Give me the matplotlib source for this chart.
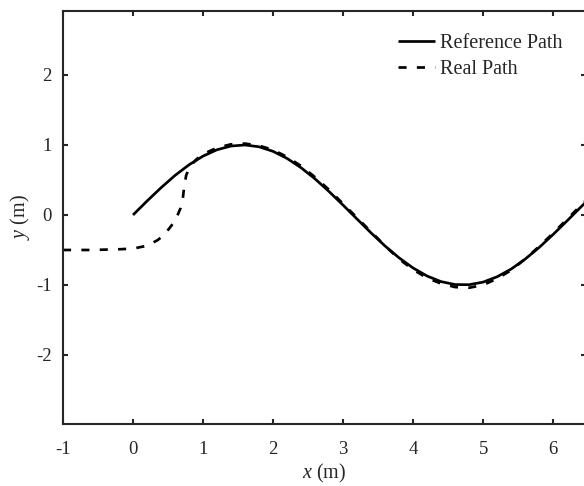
import matplotlib
matplotlib.use("Agg")
import matplotlib.pyplot as plt

plt.rcParams['font.family'] = ['Liberation Serif', 'DejaVu Serif']
plt.rcParams['mathtext.fontset'] = 'custom'
plt.rcParams['mathtext.rm'] = 'Liberation Serif'
plt.rcParams['mathtext.it'] = 'Liberation Serif:italic'

# Reference path
ref_x = [0.0, 0.2, 0.4, 0.6, 0.8, 1.0, 1.2, 1.4, 1.6, 1.8, 2.0, 2.2, 2.4, 2.6,
         2.8, 3.0, 3.2, 3.4, 3.6, 3.8, 4.0, 4.2, 4.4, 4.6, 4.8, 5.0, 5.2, 5.4,
         5.6, 5.8, 6.0, 6.2, 6.4, 6.6]
ref_y = [0.0, 0.199, 0.389, 0.565, 0.717, 0.841, 0.932, 0.985, 1.000, 0.974,
         0.909, 0.808, 0.675, 0.516, 0.335, 0.141, -0.058, -0.256, -0.443,
         -0.612, -0.757, -0.872, -0.952, -0.994, -0.996, -0.959, -0.883,
         -0.773, -0.631, -0.465, -0.279, -0.083, 0.117, 0.312]

# Real path
real_x = [-1.0, -0.6, -0.2, 0.0, 0.2, 0.35, 0.45, 0.55, 0.62, 0.68, 0.71, 0.73,
          0.76, 0.82, 0.9, 1.0, 1.2, 1.4, 1.6, 1.8, 2.0, 2.2, 2.4, 2.6, 2.8,
          3.0, 3.2, 3.4, 3.6, 3.8, 4.0, 4.2, 4.4, 4.6, 4.8, 5.0, 5.2, 5.4,
          5.6, 5.8, 6.0, 6.2, 6.4, 6.6]
real_y = [-0.50, -0.50, -0.49, -0.48, -0.44, -0.36, -0.28, -0.15, -0.04, 0.10,
          0.22, 0.40, 0.57, 0.70, 0.79, 0.87, 0.96, 1.01, 1.02, 0.99, 0.93,
          0.83, 0.70, 0.54, 0.36, 0.16, -0.04, -0.24, -0.44, -0.63, -0.78,
          -0.90, -0.98, -1.03, -1.04, -1.00, -0.91, -0.79, -0.63, -0.45,
          -0.26, -0.06, 0.14, 0.34]

x_ticks = [-1, 0, 1, 2, 3, 4, 5, 6]
y_ticks = [-2, -1, 0, 1, 2]

W, H = 584, 486
fig = plt.figure(figsize=(W / 100, H / 100), dpi=100)
ax = fig.add_axes([63 / W, 62 / H, (586 - 63) / W, (424 - 11) / H])

lw = 2.7 * 72 / 100
ax.plot(ref_x, ref_y, color='black', lw=lw, solid_capstyle='butt',
        label='Reference Path', zorder=3)
ax.plot(real_x, real_y, color='black', lw=lw, dashes=(3.0, 3.8),
        label='Real Path', zorder=2)

ax.set_xlim(-1, 6.47)
ax.set_ylim(-2.986, 2.914)
ax.set_xticks(x_ticks)
ax.set_yticks(y_ticks)
ax.set_xticklabels([str(v) for v in x_ticks])
ax.set_yticklabels([str(v) for v in y_ticks])

spine_c = '#262626'
for s in ax.spines.values():
    s.set_linewidth(1.5)
    s.set_color(spine_c)
ax.tick_params(direction='in', length=5 * 0.72, width=1.5, colors=spine_c,
               top=True, right=True, labelsize=13.5)
ax.tick_params(axis='x', pad=12)
ax.tick_params(axis='y', pad=8)
for lab in ax.get_xticklabels() + ax.get_yticklabels():
    lab.set_color('#262626')

ax.set_xlabel('$x$ (m)', fontsize=14.5, color='#262626', labelpad=3)
ax.set_ylabel('$y$ (m)', fontsize=14.5, color='#262626', labelpad=3)

leg = ax.legend(loc='upper right', frameon=False, fontsize=14.5,
                handlelength=1.8, handletextpad=0.25, borderaxespad=0.6,
                labelspacing=0.35, bbox_to_anchor=(0.993, 0.993))
for t in leg.get_texts():
    t.set_color('#262626')

fig.savefig('out.png', dpi=100)
